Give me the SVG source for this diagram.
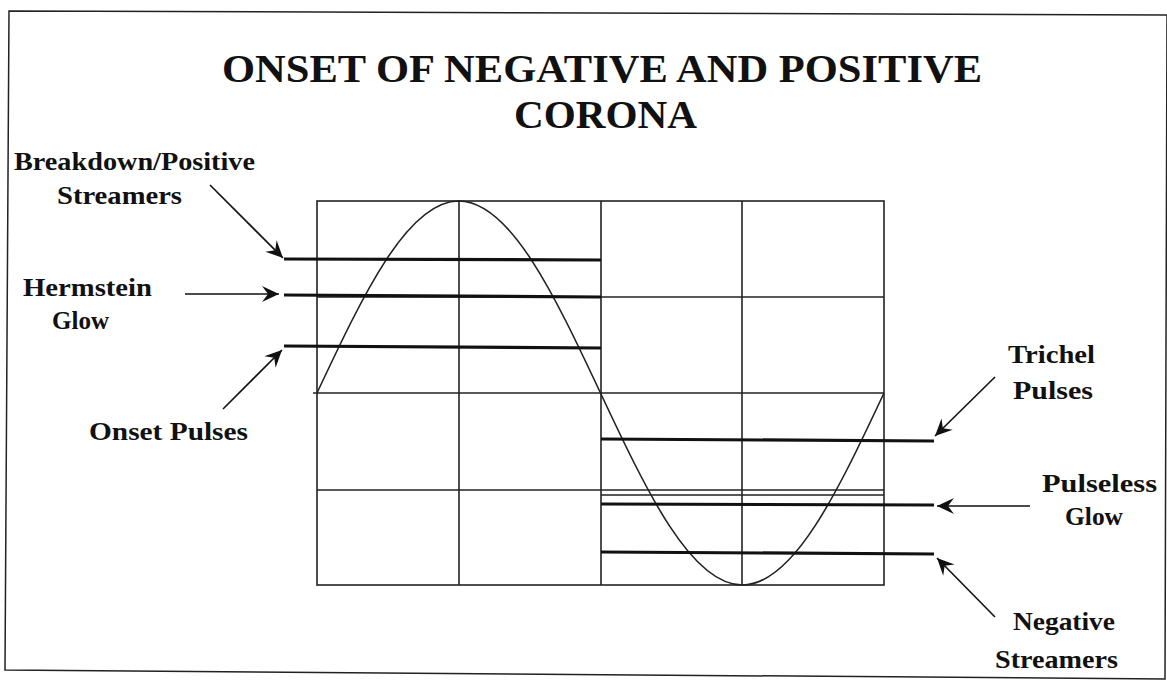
<svg xmlns="http://www.w3.org/2000/svg" width="1167" height="680" viewBox="0 0 1167 680">
<style>
.t{font-family:"Liberation Serif","Times New Roman",serif;font-weight:bold;fill:#111}
.title{font-size:39px}
.lbl{font-size:25px}
.grid{stroke:#222;stroke-width:1.6;fill:none}
.lvl{stroke:#111;stroke-width:3.2;fill:none}
.wave{stroke:#222;stroke-width:1.6;fill:none}
.arr{stroke:#111;stroke-width:1.6;fill:none;marker-end:url(#ah)}
</style>
<defs>
<marker id="ah" markerUnits="userSpaceOnUse" markerWidth="24" markerHeight="20" viewBox="-20 -10 24 20" refX="0" refY="0" orient="auto">
<path d="M0,0 L-17,-8 L-11,0 L-17,8 Z" fill="#111"/>
</marker>
</defs>
<rect width="1167" height="680" fill="#fff"/>
<polygon points="9,11 1167,15 1165,679 5,670" fill="none" stroke="#222" stroke-width="1.5"/>
<g id="title">
<text class="t title" x="222" y="82" textLength="760" lengthAdjust="spacingAndGlyphs">ONSET OF NEGATIVE AND POSITIVE</text>
<text class="t title" x="514" y="128" textLength="183" lengthAdjust="spacingAndGlyphs">CORONA</text>
</g>
<g id="grid">
<rect class="grid" x="317" y="201" width="567" height="384"/>
<line class="grid" x1="459" y1="201" x2="459" y2="585"/>
<line class="grid" x1="601" y1="201" x2="601" y2="585"/>
<line class="grid" x1="742" y1="201" x2="742" y2="585"/>
<line class="grid" x1="317" y1="297" x2="884" y2="297"/>
<line class="grid" x1="313" y1="393" x2="884" y2="393"/>
<line class="grid" x1="317" y1="490" x2="884" y2="490"/>
<line class="grid" x1="601" y1="495" x2="884" y2="495"/>
</g>
<g id="wave">
<path class="wave" d="M317,393 C363.2,294.6 407.5,201 458.75,201 C510,201 554.3,294.6 600.5,393 C646.7,491.4 691,585 742.25,585 C793.5,585 837.8,491.4 884,393"/>
</g>
<g id="levels">
<line class="lvl" x1="284" y1="259" x2="601" y2="260"/>
<line class="lvl" x1="284" y1="295" x2="601" y2="297"/>
<line class="lvl" x1="284" y1="346" x2="601" y2="348"/>
<line class="lvl" x1="601" y1="439" x2="934" y2="441"/>
<line class="lvl" x1="601" y1="504" x2="934" y2="505"/>
<line class="lvl" x1="601" y1="552" x2="934" y2="554"/>
</g>
<g id="connectors">
<line class="arr" x1="210" y1="185" x2="283" y2="258"/>
<line class="arr" x1="185" y1="294" x2="279" y2="294"/>
<line class="arr" x1="223" y1="409" x2="282" y2="350"/>
<line class="arr" x1="995" y1="377" x2="935" y2="436"/>
<line class="arr" x1="1030" y1="506" x2="937" y2="506"/>
<line class="arr" x1="995" y1="617" x2="937" y2="558"/>
</g>
<g id="breakdown">
<text class="t lbl" x="14" y="170" textLength="241" lengthAdjust="spacingAndGlyphs">Breakdown/Positive</text>
<text class="t lbl" x="57" y="204" textLength="125" lengthAdjust="spacingAndGlyphs">Streamers</text>
</g>
<g id="hermstein">
<text class="t lbl" x="23" y="296" textLength="129" lengthAdjust="spacingAndGlyphs">Hermstein</text>
<text class="t lbl" x="52" y="329" textLength="57" lengthAdjust="spacingAndGlyphs">Glow</text>
</g>
<g id="onset">
<text class="t lbl" x="89" y="440" textLength="159" lengthAdjust="spacingAndGlyphs">Onset Pulses</text>
</g>
<g id="trichel">
<text class="t lbl" x="1008" y="363" textLength="87" lengthAdjust="spacingAndGlyphs">Trichel</text>
<text class="t lbl" x="1013" y="399" textLength="80" lengthAdjust="spacingAndGlyphs">Pulses</text>
</g>
<g id="pulseless">
<text class="t lbl" x="1042" y="492" textLength="115" lengthAdjust="spacingAndGlyphs">Pulseless</text>
<text class="t lbl" x="1065" y="525" textLength="58" lengthAdjust="spacingAndGlyphs">Glow</text>
</g>
<g id="negative">
<text class="t lbl" x="1013" y="630" textLength="102" lengthAdjust="spacingAndGlyphs">Negative</text>
<text class="t lbl" x="995" y="668" textLength="123" lengthAdjust="spacingAndGlyphs">Streamers</text>
</g>
</svg>
